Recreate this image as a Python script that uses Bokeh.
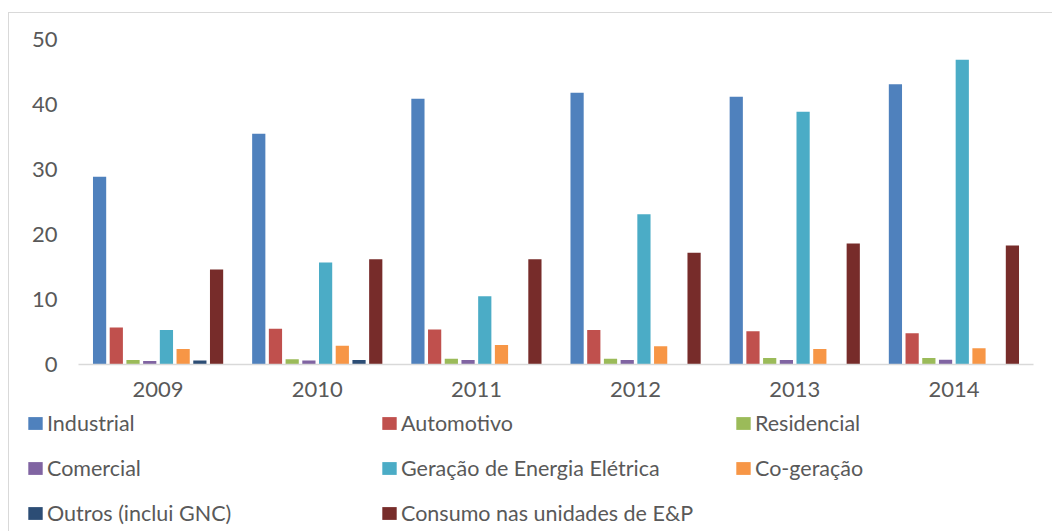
from bokeh.plotting import figure
from bokeh.models import ColumnDataSource, Legend, LegendItem, Range1d
from bokeh.layouts import column
from bokeh.transform import dodge
from bokeh.embed import file_html
from bokeh.resources import INLINE

years = ["2009", "2010", "2011", "2012", "2013", "2014"]
industrial = [28.9, 35.5, 40.9, 41.8, 41.2, 43.1]
automotivo = [5.7, 5.5, 5.4, 5.3, 5.1, 4.8]
residencial = [0.7, 0.8, 0.9, 0.9, 1.0, 1.0]
comercial = [0.55, 0.6, 0.7, 0.7, 0.7, 0.75]
geracao = [5.3, 15.7, 10.5, 23.1, 38.9, 46.9]
cogeracao = [2.4, 2.9, 3.0, 2.8, 2.4, 2.5]
outros = [0.6, 0.7, 0.0, 0.0, 0.0, 0.0]
ep = [14.6, 16.2, 16.2, 17.2, 18.6, 18.3]

series_names = ["Industrial", "Automotivo", "Residencial", "Comercial",
                "Geração de Energia Elétrica", "Co-geração",
                "Outros (inclui GNC)", "Consumo nas unidades de E&P"]
series_values = [industrial, automotivo, residencial, comercial,
                 geracao, cogeracao, outros, ep]
colors = ["#4f81bd", "#c0504d", "#9bbb59", "#8064a2",
          "#4bacc6", "#f79646", "#2c4d75", "#772c2a"]
y_ticks = [0, 10, 20, 30, 40, 50]

data = {"year": years}
for i, v in enumerate(series_values):
    data["s%d" % i] = v
src = ColumnDataSource(data)

# main chart
p = figure(x_range=years, y_range=Range1d(0, 50),
           width=1044, height=397, output_backend="svg", toolbar_location=None,
           min_border_left=69, min_border_right=20, min_border_top=26,
           min_border_bottom=46)
p.margin = (12, 0, 0, 8)
p.styles = {"border-top": "1px solid #d9d9d9", "border-left": "1px solid #d9d9d9"}
p.frame_align = False

step = 0.105
for i, c in enumerate(colors):
    p.vbar(x=dodge("year", (i - 3.5) * step, range=p.x_range), top="s%d" % i,
           width=0.083, source=src, fill_color=c, line_color=None)

p.outline_line_color = None
p.xgrid.grid_line_color = None
p.ygrid.grid_line_color = None

p.yaxis.ticker = y_ticks
p.yaxis.axis_line_color = None
p.yaxis.major_tick_line_color = None
p.yaxis.minor_tick_line_color = None
p.yaxis.major_tick_out = 0
p.yaxis.major_label_standoff = 21
p.yaxis.major_label_text_font = "Lato"
p.yaxis.major_label_text_font_size = "22px"
p.yaxis.major_label_text_color = "#595959"

p.xaxis.axis_line_color = "#d9d9d9"
p.xaxis.axis_line_width = 1.5
p.xaxis.major_tick_line_color = None
p.xaxis.minor_tick_line_color = None
p.xaxis.major_tick_out = 0
p.xaxis.major_label_standoff = 17
p.xaxis.major_label_text_font = "Lato"
p.xaxis.major_label_text_font_size = "22px"
p.xaxis.major_label_text_color = "#595959"

# legend panel
p2 = figure(width=1044, height=122, output_backend="svg", toolbar_location=None,
            x_range=Range1d(0, 1), y_range=Range1d(0, 1),
            x_axis_location=None, y_axis_location=None,
            min_border_left=0, min_border_right=0, min_border_top=0, min_border_bottom=0)
p2.margin = (0, 0, 0, 8)
p2.styles = {"border-left": "1px solid #d9d9d9"}
p2.frame_align = False
p2.outline_line_color = None
p2.xgrid.grid_line_color = None
p2.ygrid.grid_line_color = None

legend_renderers = []
for c in colors:
    legend_renderers.append(p2.quad(left=[5], right=[6], bottom=[0], top=[1],
                                    fill_color=c, line_color=None))

rows = [[0, 1, 2], [3, 4, 5], [6, 7]]
row_y = [95, 50, 5]
for ri, idxs in enumerate(rows):
    items = [LegendItem(label=series_names[k], renderers=[legend_renderers[k]]) for k in idxs]
    leg = Legend(items=items, orientation="horizontal", location=(17, row_y[ri]),
                 glyph_width=18, glyph_height=16, label_standoff=3, label_width=333,
                 label_height=20, spacing=0, padding=0, margin=0,
                 border_line_color=None, background_fill_alpha=0,
                 label_text_font="Lato", label_text_font_size="21.5px",
                 label_text_color="#595959")
    p2.add_layout(leg, "center")

layout = column(p, p2, spacing=0)
open("out.html", "w").write(file_html(layout, INLINE))
